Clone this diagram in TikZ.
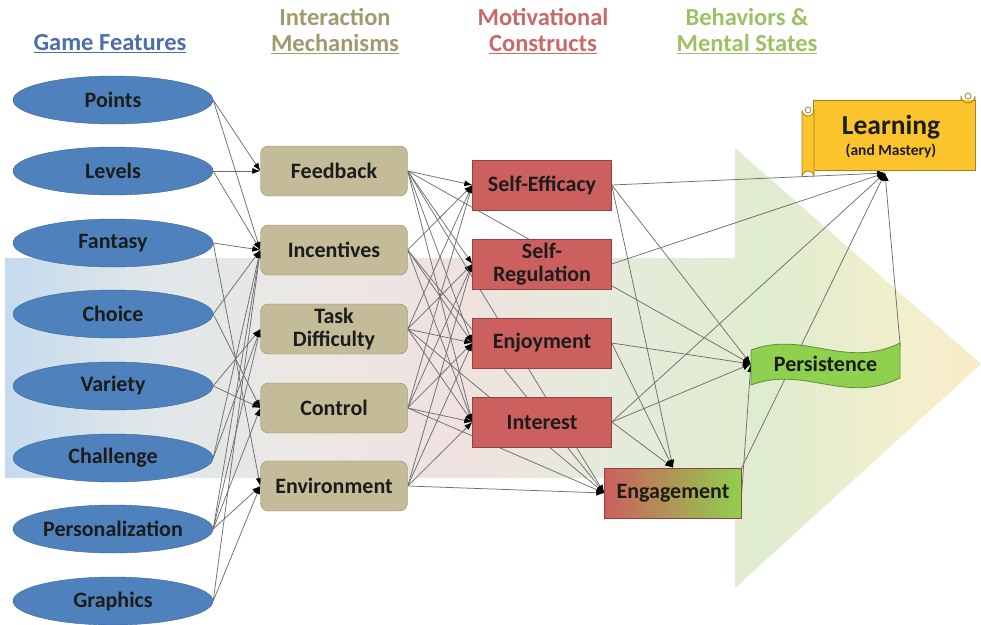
\documentclass[tikz,border=0pt]{standalone}
\usepackage{fontspec}
\setmainfont{Carlito}
\usetikzlibrary{shapes.geometric,arrows.meta}

\definecolor{featblue}{HTML}{4F81BD}
\definecolor{featline}{HTML}{3A6593}
\definecolor{mechtan}{HTML}{C4BC98}
\definecolor{mechline}{HTML}{8E8667}
\definecolor{consred}{HTML}{CC605E}
\definecolor{consline}{HTML}{97403E}
\definecolor{persgreen}{HTML}{8FD04E}
\definecolor{persline}{HTML}{5F8E35}
\definecolor{learnyellow}{HTML}{FCC42C}
\definecolor{learnline}{HTML}{A5821F}
\definecolor{linegray}{HTML}{6E6E6E}
\definecolor{textdark}{HTML}{1C1C1C}
\definecolor{headblue}{HTML}{4C6FAA}
\definecolor{headolive}{HTML}{A09A6E}
\definecolor{headred}{HTML}{C9696A}
\definecolor{headgreen}{HTML}{9DC163}
\definecolor{arrA}{HTML}{C5DAEE}
\definecolor{arrB}{HTML}{DFE6EA}
\definecolor{arrC}{HTML}{EBE8E4}
\definecolor{arrD}{HTML}{F0E2E0}
\definecolor{arrE}{HTML}{E5EBDA}
\definecolor{arrF}{HTML}{E0ECCF}
\definecolor{arrG}{HTML}{F2EFCD}
\definecolor{arrH}{HTML}{F9EBC8}

\pgfdeclarehorizontalshading{bigarrow}{100bp}{color(0bp)=(arrA); color(25bp)=(arrA); color(32bp)=(arrB); color(40bp)=(arrC); color(48bp)=(arrD); color(56bp)=(arrE); color(64bp)=(arrF); color(71bp)=(arrG); color(75bp)=(arrH); color(100bp)=(arrH)}

\pgfdeclarelayer{back}
\pgfdeclarelayer{lines}
\pgfsetlayers{back,lines,main}

\newcommand{\nodefont}{\fontsize{22}{23}\selectfont\bfseries}
\newcommand{\headfont}{\fontsize{24.5}{26}\selectfont\bfseries}

\tikzstyle{feat}=[ellipse, draw=featline, fill=featblue, minimum width=200pt, minimum height=48pt, inner sep=0pt, text=textdark, font=\nodefont]
\tikzstyle{mech}=[rectangle, rounded corners=8pt, draw=mechline, fill=mechtan, minimum width=147pt, minimum height=50pt, inner sep=2pt, align=center, text=textdark, font=\nodefont]
\tikzstyle{cons}=[rectangle, draw=consline, fill=consred, minimum width=139pt, minimum height=50pt, inner sep=2pt, align=center, text=textdark, font=\nodefont]
\tikzstyle{state}=[rectangle, inner sep=0pt, text=textdark, font=\nodefont]
\tikzstyle{head}=[inner sep=0pt, align=center, font=\headfont]
\tikzstyle{edge}=[draw=linegray, line width=0.75pt, -{Latex[length=8pt,width=6pt,color=black]}]

\begin{document}
\begin{tikzpicture}[x=1pt,y=-1pt]
				\useasboundingbox (0,0) rectangle (981,624);

				%The background arrow
				\begin{pgfonlayer}{back}
				\shade[shading=bigarrow] (5,258) -- (735,258) -- (735,148) -- (981,364) -- (735,588) -- (735,478) -- (5,478) -- cycle;
				\end{pgfonlayer}

				%The column heads
				\draw (110,44) node[head, text=headblue] (h1) {\underline{Game Features}};
				\draw (335,31) node[head, text=headolive] (h2) {Interaction\\\underline{Mechanisms}};
				\draw (543,31) node[head, text=headred] (h3) {Motivational\\\underline{Constructs}};
				\draw (747,31) node[head, text=headgreen] (h4) {Behaviors \&\\\underline{Mental States}};

				%The game features
				\draw (113,100) node[feat] (f1) {Points};
				\draw (113,171) node[feat] (f2) {Levels};
				\draw (113,243) node[feat] (f3) {Fantasy};
				\draw (113,314) node[feat] (f4) {Choice};
				\draw (113,386) node[feat] (f5) {Variety};
				\draw (113,458) node[feat] (f6) {Challenge};
				\draw (113,529) node[feat] (f7) {Personalization};
				\draw (113,601) node[feat] (f8) {Graphics};

				%The interaction mechanisms
				\draw (334,171) node[mech] (m1) {Feedback};
				\draw (334,250) node[mech] (m2) {Incentives};
				\draw (334,329) node[mech] (m3) {Task\\Difficulty};
				\draw (334,408) node[mech] (m4) {Control};
				\draw (334,486) node[mech] (m5) {Environment};

				%The motivational constructs
				\draw (542,185) node[cons] (c1) {Self-Efficacy};
				\draw (542,264) node[cons] (c2) {Self-\\Regulation};
				\draw (542,343) node[cons] (c3) {Enjoyment};
				\draw (542,422) node[cons] (c4) {Interest};

				%The behaviors and states
				\draw (673,493) node[cons, minimum width=137pt, left color=consred, right color=persgreen, draw=consline] (eng) {Engagement};

				\filldraw[fill=persgreen, draw=persline, line width=0.8pt] (751,350) .. controls (805,330) and (845,370) .. (900,343) -- (900,378) .. controls (845,405) and (805,365) .. (751,385) -- cycle;
				\draw (825.5,364) node[state, minimum width=149pt, minimum height=36pt] (pers) {Persistence};

				\filldraw[fill=learnyellow, draw=learnline, line width=0.8pt] (813,100) rectangle (975,170);
				\filldraw[fill=learnyellow, draw=learnline, line width=0.8pt] (961,100) -- (961,96) arc[start angle=180, end angle=0, radius=7] -- (975,100);
				\draw[learnline, line width=0.8pt] (968,96) circle (3);
				\filldraw[fill=learnyellow, draw=learnline, line width=0.8pt] (802,110) arc[start angle=180, end angle=0, radius=6] -- (814,177) arc[start angle=0, end angle=-180, radius=6] -- cycle;
				\draw[learnline, line width=0.8pt] (808,110) circle (3);
				\draw (891,137) node[state, align=center] (learn) {{\fontsize{27.5}{29}\selectfont Learning}\\[-2pt]{\fontsize{15.5}{17}\selectfont (and Mastery)}};
				\coordinate (learnpt) at (885,173);

				\begin{pgfonlayer}{lines}
				%Features to mechanisms
				\draw[edge] (f1.east) -- (m1.west);
				\draw[edge] (f1.east) -- (m2.west);
				\draw[edge] (f2.east) -- (m1.west);
				\draw[edge] (f2.east) -- (m2.west);
				\draw[edge] (f3.east) -- (m2.west);
				\draw[edge] (f3.east) -- (m5.west);
				\draw[edge] (f4.east) -- (m2.west);
				\draw[edge] (f4.east) -- (m4.west);
				\draw[edge] (f5.east) -- (m3.west);
				\draw[edge] (f5.east) -- (m4.west);
				\draw[edge] (f6.east) -- (m2.west);
				\draw[edge] (f6.east) -- (m3.west);
				\draw[edge] (f7.east) -- (m2.west);
				\draw[edge] (f7.east) -- (m3.west);
				\draw[edge] (f7.east) -- (m4.west);
				\draw[edge] (f7.east) -- (m5.west);
				\draw[edge] (f8.east) -- (m2.west);
				\draw[edge] (f8.east) -- (m5.west);

				%Mechanisms to constructs
				\draw[edge] (m1.east) -- (c1.west);
				\draw[edge] (m1.east) -- (c2.west);
				\draw[edge] (m1.east) -- (c3.west);
				\draw[edge] (m1.east) -- (c4.west);
				\draw[edge] (m2.east) -- (c1.west);
				\draw[edge] (m2.east) -- (c3.west);
				\draw[edge] (m2.east) -- (c4.west);
				\draw[edge] (m3.east) -- (c1.west);
				\draw[edge] (m3.east) -- (c2.west);
				\draw[edge] (m3.east) -- (c3.west);
				\draw[edge] (m3.east) -- (c4.west);
				\draw[edge] (m4.east) -- (c1.west);
				\draw[edge] (m4.east) -- (c2.west);
				\draw[edge] (m4.east) -- (c3.west);
				\draw[edge] (m4.east) -- (c4.west);
				\draw[edge] (m5.east) -- (c2.west);
				\draw[edge] (m5.east) -- (c3.west);
				\draw[edge] (m5.east) -- (c4.west);

				%Mechanisms to behaviors
				\draw[edge] (m1.east) -- (eng.west);
				\draw[edge] (m2.east) -- (eng.west);
				\draw[edge] (m3.east) -- (eng.west);
				\draw[edge] (m4.east) -- (eng.west);
				\draw[edge] (m5.east) -- (eng.west);
				\draw[edge] (m1.east) -- (pers.west);

				%Constructs to behaviors
				\draw[edge] (c1.east) -- (learnpt);
				\draw[edge] (c1.east) -- (pers.west);
				\draw[edge] (c1.east) -- (eng.north);
				\draw[edge] (c2.east) -- (learnpt);
				\draw[edge] (c3.east) -- (pers.west);
				\draw[edge] (c3.east) -- (eng.north);
				\draw[edge] (c4.east) -- (pers.west);
				\draw[edge] (c4.east) -- (eng.north);
				\draw[edge] (c4.east) -- (learnpt);

				%Behaviors to learning
				\draw[edge] (eng.east) -- (pers.west);
				\draw[edge] (eng.north east) -- (learnpt);
				\draw[edge] (pers.north east) -- (learnpt);
				\end{pgfonlayer}
			\end{tikzpicture}
\end{document}
